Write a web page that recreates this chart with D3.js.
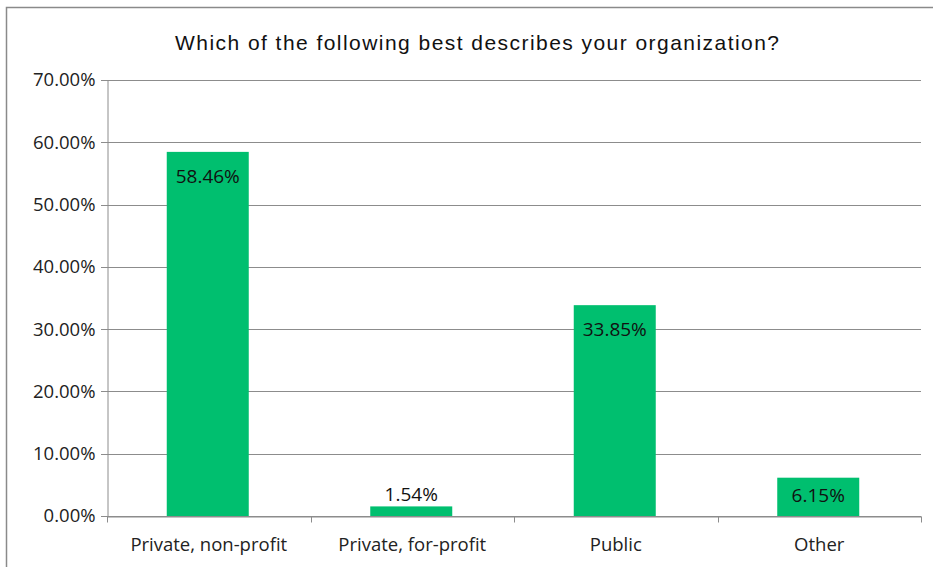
<!DOCTYPE html>
<meta charset="utf-8">
<style>
body { margin: 0; background: #fff; }
.axis text { font-family: "Open Sans", Calibri, sans-serif; font-size: 18.5px; fill: #222; }
.label { font-family: "Open Sans", Calibri, sans-serif; font-size: 19px; fill: #111; }
.title { font-family: "Liberation Sans", Arial, sans-serif; font-size: 21px; fill: #111; }
</style>
<body>
<script src="https://d3js.org/d3.v7.min.js"></script>
<script>
var categories = ["Private, non-profit", "Private, for-profit", "Public", "Other"];
var values = [58.46, 1.54, 33.85, 6.15];
var yTicks = [0, 10, 20, 30, 40, 50, 60, 70];

var width = 933, height = 567;
var margin = {top: 80, right: 12, bottom: 51, left: 107};

var svg = d3.select("body").append("svg")
    .attr("width", width)
    .attr("height", height);

// outer border (top + left only visible)
svg.append("path")
    .attr("d", "M6.5,567V7.5H933")
    .attr("fill", "none")
    .attr("stroke", "#8a8a8a")
    .attr("stroke-width", 1.5);

svg.append("text")
    .attr("class", "title")
    .attr("x", 175)
    .attr("y", 50)
    .attr("textLength", 604)
    .attr("lengthAdjust", "spacing")
    .text("Which of the following best describes your organization?");

var x = d3.scaleBand()
    .domain(categories)
    .range([margin.left, width - margin.right]);

var y = d3.scaleLinear()
    .domain([0, 70])
    .range([height - margin.bottom, margin.top]);

// gridlines
svg.append("g")
  .selectAll("line")
  .data(yTicks)
  .enter().append("line")
    .attr("x1", margin.left - 6)
    .attr("x2", width - margin.right)
    .attr("y1", function(d) { return Math.round(y(d)) + 0.5; })
    .attr("y2", function(d) { return Math.round(y(d)) + 0.5; })
    .attr("stroke", "#8c8c8c")
    .attr("stroke-width", 1);

var yAxis = svg.append("g")
    .attr("class", "axis")
    .attr("transform", "translate(" + (margin.left + 0.5) + ",0)")
    .call(d3.axisLeft(y).tickValues(yTicks).tickSize(0).tickPadding(12)
      .tickFormat(function(d) { return d.toFixed(2) + "%"; }));
yAxis.select(".domain").attr("stroke", "#8c8c8c");

// bars
var barW = 82;
svg.append("g")
  .selectAll("rect")
  .data(values)
  .enter().append("rect")
    .attr("x", function(d, i) { return x(categories[i]) + x.bandwidth() / 2 - barW / 2 - 1; })
    .attr("y", function(d) { return y(d); })
    .attr("width", barW)
    .attr("height", function(d) { return y(0) - y(d); })
    .attr("fill", "#00bf6f");

// x axis
var xAxis = svg.append("g")
    .attr("class", "axis")
    .attr("transform", "translate(0," + (Math.round(y(0)) + 0.5) + ")")
    .call(d3.axisBottom(x).tickSize(0).tickPadding(21));
xAxis.select(".domain").attr("stroke", "#8c8c8c");
xAxis.append("g")
  .selectAll("line")
  .data(categories)
  .enter().append("line")
    .attr("x1", function(d) { return Math.round(x(d) + x.bandwidth()) + 0.5; })
    .attr("x2", function(d) { return Math.round(x(d) + x.bandwidth()) + 0.5; })
    .attr("y1", 0)
    .attr("y2", 6)
    .attr("stroke", "#8c8c8c");
xAxis.append("line")
    .attr("x1", margin.left + 0.5).attr("x2", margin.left + 0.5)
    .attr("y1", 0).attr("y2", 6)
    .attr("stroke", "#8c8c8c");

// data labels: inside end for tall bars, above for the tiny one
svg.append("g")
  .selectAll("text")
  .data(values)
  .enter().append("text")
    .attr("class", "label")
    .attr("text-anchor", "middle")
    .attr("x", function(d, i) { return x(categories[i]) + x.bandwidth() / 2 - 1; })
    .attr("y", function(d) {
      var h = y(0) - y(d);
      return d > 5 ? y(d) + Math.min(31, h / 2 + 5) : y(d) - 5;
    })
    .text(function(d) { return d.toFixed(2) + "%"; });
</script>
</body>
</html>
